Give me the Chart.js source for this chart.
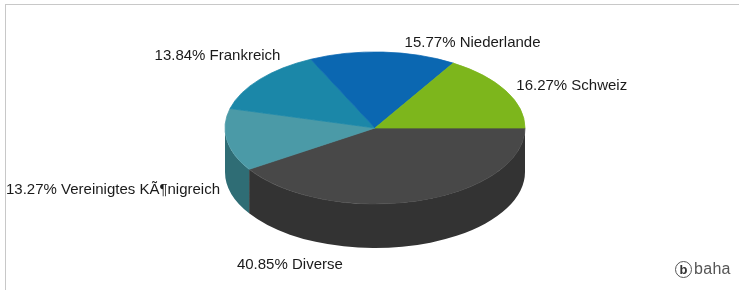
<!DOCTYPE html>
<html>
<head>
<meta charset="utf-8">
<script src="https://cdn.jsdelivr.net/npm/chart.js@4.4.0/dist/chart.umd.min.js"></script>
<style>
  body { margin: 0; background: #fff; }
  #wrap { position: relative; width: 739px; height: 290px; overflow: hidden; }
  #frame { position: absolute; left: 5px; top: 4px; right: -2px; bottom: -2px; border-top: 1px solid #c8c8c8; border-left: 1px solid #c8c8c8; }
  canvas { position: absolute; left: 0; top: 0; }
  #logo { position: absolute; left: 675px; top: 260px; display: flex; align-items: center; font-family: "Liberation Sans", Arial, sans-serif; color: #555; font-size: 16px; letter-spacing: 0.3px; }
  #logo .b { display: inline-block; width: 15px; height: 15px; border: 1.5px solid #555; border-radius: 50%; font-weight: bold; font-size: 13px; line-height: 15px; text-align: center; color: #333; margin-right: 2px; letter-spacing: 0; }
</style>
</head>
<body>
<div id="wrap">
  <div id="frame"></div>
  <canvas id="chart" width="739" height="290"></canvas>
  <div id="logo"><span class="b">b</span>baha</div>
</div>
<script>
// slices go clockwise from 3 o'clock
const countries = ['Diverse', 'Vereinigtes KÃ¶nigreich', 'Frankreich', 'Niederlande', 'Schweiz'];
const shares = [40.85, 13.27, 13.84, 15.77, 16.27];
const topColors = ['#484848', '#4b9aa7', '#1b87a8', '#0b67b1', '#7db61c'];
const sideColors = ['#333333', '#2f6d75', '#135f77', '#07487c', '#578013'];

const tilt = 0.507;
const depth = 44;

const pie3d = {
  id: 'pie3d',
  beforeDatasetsDraw(chart) {
    const ctx = chart.ctx;
    const arcs = chart.getDatasetMeta(0).data;
    // side walls of the front half
    arcs.forEach((arc, i) => {
      const p = arc.getProps(['x', 'y', 'startAngle', 'endAngle', 'outerRadius']);
      const a1 = Math.max(p.startAngle, 0);
      const a2 = Math.min(p.endAngle, Math.PI);
      if (a2 <= a1) return;
      const ry = p.outerRadius * tilt;
      ctx.save();
      ctx.beginPath();
      ctx.ellipse(p.x, p.y, p.outerRadius, ry, 0, a1, a2);
      ctx.ellipse(p.x, p.y + depth, p.outerRadius, ry, 0, a2, a1, true);
      ctx.closePath();
      ctx.fillStyle = sideColors[i];
      ctx.fill();
      ctx.restore();
    });
    // squash the top face
    const a = arcs[0];
    ctx.save();
    ctx.translate(a.x, a.y);
    ctx.scale(1, tilt);
    ctx.translate(-a.x, -a.y);
  },
  afterDatasetsDraw(chart, args, opts) {
    const ctx = chart.ctx;
    ctx.restore();
    const arcs = chart.getDatasetMeta(0).data;
    ctx.save();
    ctx.font = '15px "Liberation Sans", Arial, sans-serif';
    ctx.fillStyle = '#1a1a1a';
    ctx.textBaseline = 'middle';
    arcs.forEach((arc, i) => {
      const p = arc.getProps(['x', 'y', 'startAngle', 'endAngle', 'outerRadius']);
      const mid = (p.startAngle + p.endAngle) / 2;
      const c = Math.cos(mid), s = Math.sin(mid);
      let x = p.x + (p.outerRadius + 12) * c;
      let y = p.y + (p.outerRadius * tilt + 12) * s + (s > 0 ? depth : 0);
      const n = opts.nudge[i] || [0, 0];
      x += n[0];
      y += n[1];
      ctx.textAlign = (c >= 0 || n[0] < -100) ? 'left' : 'right';
      ctx.fillText(shares[i].toFixed(2) + '% ' + countries[i], x, y);
    });
    ctx.restore();
  }
};

new Chart(document.getElementById('chart'), {
  type: 'pie',
  data: {
    labels: countries,
    datasets: [{
      data: shares,
      backgroundColor: topColors,
      borderColor: topColors,
      borderWidth: 1,
      clip: false
    }]
  },
  options: {
    responsive: false,
    devicePixelRatio: 1,
    animation: false,
    rotation: 90,
    radius: 150,
    layout: { padding: { left: 11, right: 0, top: 0, bottom: 34 } },
    events: [],
    plugins: {
      legend: { display: false },
      tooltip: { enabled: false },
      pie3d: { nudge: [[-184, 8], [5, 4], [30, -16], [21, 3], [0, 1]] }
    }
  },
  plugins: [pie3d]
});
</script>
</body>
</html>
